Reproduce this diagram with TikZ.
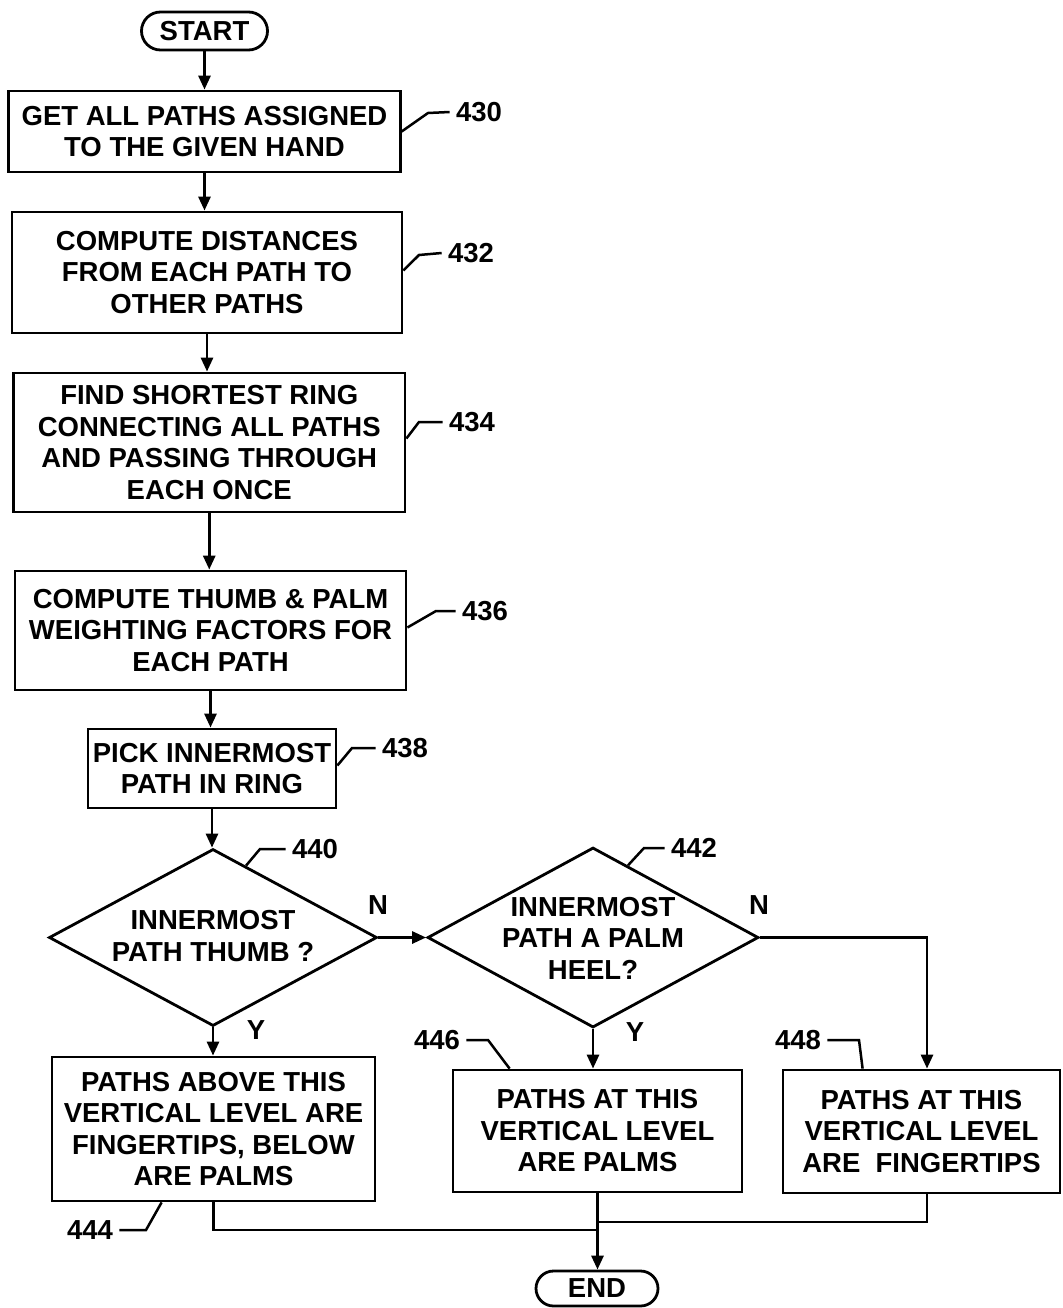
\documentclass[tikz,border=0pt]{standalone}
\usepackage{fontspec}
\setmainfont{Liberation Sans}
\usetikzlibrary{shapes.geometric,shapes.misc,arrows.meta,calc}
\begin{document}
\begin{tikzpicture}[x=1pt,y=-1pt, line width=2.8pt,
 every node/.style={font=\fontsize{27.5}{31.5}\selectfont\bfseries},
 box/.style={draw, rectangle, align=center, inner sep=0pt},
 term/.style={draw, rounded rectangle, inner sep=0pt},
 dia/.style={draw, diamond, inner sep=0pt},
 txt/.style={align=center, inner sep=0pt},
 lab/.style={inner sep=5pt},
 arr/.style={-{Triangle[length=14pt,width=12pt]}},
 lead/.style={line width=2.5pt}]
\useasboundingbox (0,0) rectangle (1062,1308);

% terminals
\node[term, minimum width=126pt, minimum height=38pt] (start) at (204.5,31) {START};
\node[term, minimum width=122pt, minimum height=35pt] (end) at (597,1288.5) {END};

% process boxes
\node[box, minimum width=391.5pt, minimum height=81pt] (b430) at (204.5,131.5) {GET ALL PATHS ASSIGNED\\TO THE GIVEN HAND};
\node[box, minimum width=390pt, minimum height=121pt] (b432) at (207,272.5) {COMPUTE DISTANCES\\FROM EACH PATH TO\\OTHER PATHS};
\node[box, minimum width=391.5pt, minimum height=139pt] (b434) at (209.25,442.5) {FIND SHORTEST RING\\CONNECTING ALL PATHS\\AND PASSING THROUGH\\EACH ONCE};
\node[box, minimum width=391pt, minimum height=119pt] (b436) at (210.5,630.5) {COMPUTE THUMB \& PALM\\WEIGHTING FACTORS FOR\\EACH PATH};
\node[box, minimum width=248pt, minimum height=79pt] (b438) at (212,768.5) {PICK INNERMOST\\PATH IN RING};

% decisions
\node[dia, minimum width=328pt, minimum height=177pt] (d440) at (213,937.5) {};
\node[txt] (t440) at (213,936) {INNERMOST\\PATH THUMB ?};
\node[dia, minimum width=331pt, minimum height=180pt] (d442) at (593,937.5) {};
\node[txt] (t442) at (593,938) {INNERMOST\\PATH A PALM\\HEEL?};

% result boxes
\node[box, minimum width=323pt, minimum height=144pt] (b444) at (213.5,1129) {PATHS ABOVE THIS\\VERTICAL LEVEL ARE\\FINGERTIPS, BELOW\\ARE PALMS};
\node[box, minimum width=289pt, minimum height=122pt] (b446) at (597.5,1131) {PATHS AT THIS\\VERTICAL LEVEL\\ARE PALMS};
\node[box, minimum width=277pt, minimum height=123pt] (b448) at (921.5,1131.5) {PATHS AT THIS\\VERTICAL LEVEL\\ARE\ \ FINGERTIPS};

% branch letters
\node (n1) at (378,905) {N};
\node (n2) at (759,905) {N};
\node (y1) at (256,1030) {Y};
\node (y2) at (635,1032) {Y};

% reference numerals
\node[lab] (l430) at (479,112) {430};
\node[lab] (l432) at (471,253) {432};
\node[lab] (l434) at (472,422) {434};
\node[lab] (l436) at (485,611) {436};
\node[lab] (l438) at (405,748) {438};
\node[lab] (l440) at (315,849) {440};
\node[lab] (l442) at (694,848) {442};
\node[lab] (l444) at (90,1230) {444};
\node[lab] (l446) at (437,1040) {446};
\node[lab] (l448) at (798,1040) {448};

% leaders
\draw[lead] (b430.east) -- (428,113) -- (l430.west);
\draw[lead] ($(b432.east)+(0,-2)$) -- (419,255) -- (l432.west);
\draw[lead] ($(b434.east)+(0,-4)$) -- (419,422) -- (l434.west);
\draw[lead] ($(b436.east)+(0,-3)$) -- (436,611) -- (l436.west);
\draw[lead] ($(b438.east)+(0,-3)$) -- (352,748) -- (l438.west);
\draw[lead] ($(d440.north)!0.2!(d440.east)$) -- (260,849) -- (l440.west);
\draw[lead] ($(d442.north)!0.21!(d442.east)$) -- (644,848) -- (l442.west);
\draw[lead] (l444.east) -- (146,1230) -- ($(b444.south west)+(111,0)$);
\draw[lead] (l446.east) -- (488,1040) -- ($(b446.north west)+(58,0)$);
\draw[lead] (l448.east) -- (859,1040) -- ($(b448.north west)+(81,0)$);

% flow connectors
\draw[arr] (start.south) -- (start.south |- b430.north);
\draw[arr] (b430.south) -- (b430.south |- b432.north);
\draw[arr] (b432.south) -- (b432.south |- b434.north);
\draw[arr] (b434.south) -- (b434.south |- b436.north);
\draw[arr] (b436.south) -- (b436.south |- b438.north);
\draw[arr] (b438.south) -- (b438.south |- d440.north);
\draw[arr] (d440.east) -- (d442.west);
\draw[arr] (d442.east) -| ($(b448.north)+(5.5,0)$);
\draw[arr] (d440.south) -- (d440.south |- b444.north);
\draw[arr] (d442.south) -- (d442.south |- b446.north);
\coordinate (m1) at (597,1230);
\coordinate (m2) at (597,1222);
\draw (b444.south) |- (m1);
\draw ($(b448.south)+(5.5,0)$) |- (m2);
\draw[arr] (b446.south) -- (b446.south |- end.north);
\end{tikzpicture}
\end{document}
